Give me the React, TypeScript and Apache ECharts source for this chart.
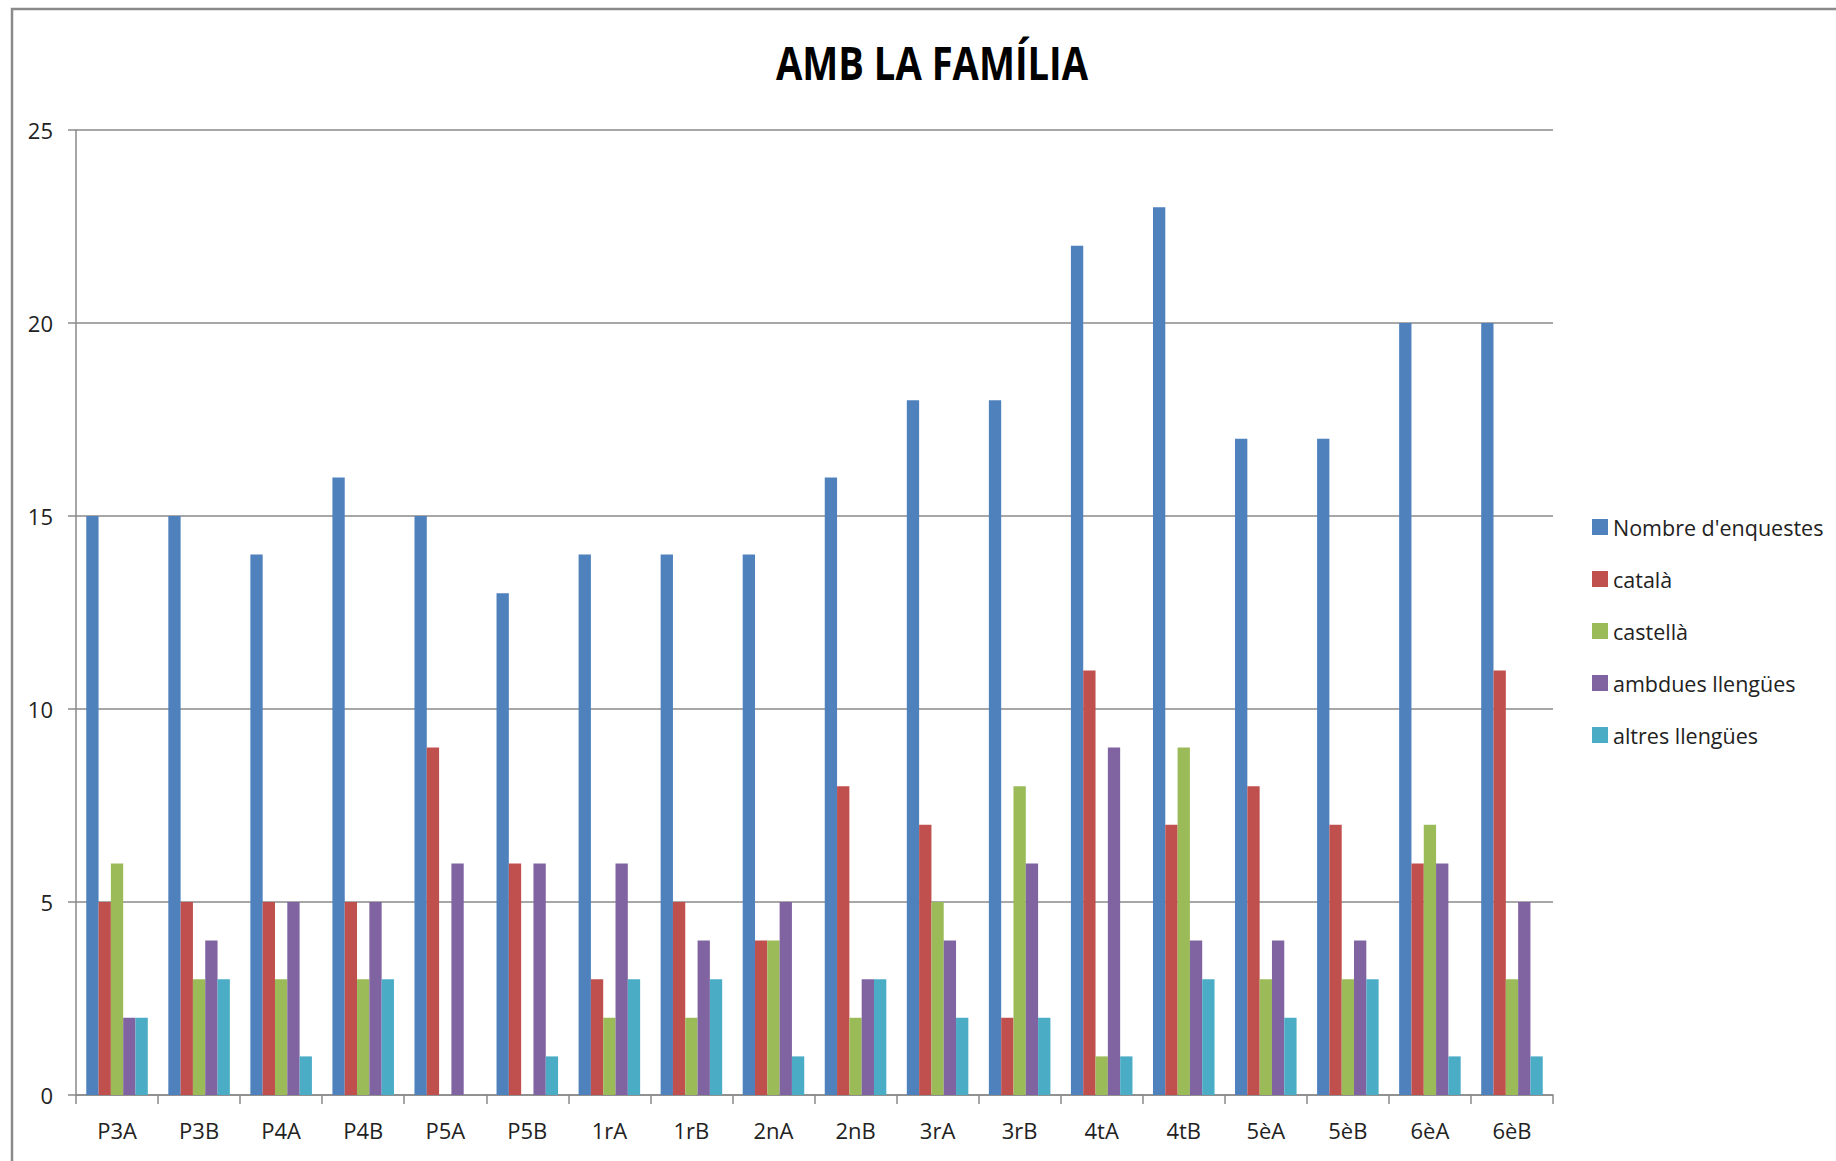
import React, { useEffect, useRef } from "react";
import * as echarts from "echarts";

const categories = ["P3A", "P3B", "P4A", "P4B", "P5A", "P5B", "1rA", "1rB", "2nA", "2nB", "3rA", "3rB", "4tA", "4tB", "5èA", "5èB", "6èA", "6èB"];
const nombreEnquestes = [15, 15, 14, 16, 15, 13, 14, 14, 14, 16, 18, 18, 22, 23, 17, 17, 20, 20];
const catala = [5, 5, 5, 5, 9, 6, 3, 5, 4, 8, 7, 2, 11, 7, 8, 7, 6, 11];
const castella = [6, 3, 3, 3, 0, 0, 2, 2, 4, 2, 5, 8, 1, 9, 3, 3, 7, 3];
const ambdues = [2, 4, 5, 5, 6, 6, 6, 4, 5, 3, 4, 6, 9, 4, 4, 4, 6, 5];
const altres = [2, 3, 1, 3, 0, 1, 3, 3, 1, 3, 2, 2, 1, 3, 2, 3, 1, 1];
const seriesNames = ["Nombre d'enquestes", "català", "castellà", "ambdues llengües", "altres llengües"];
const seriesColors = ["#4F81BD", "#C0504D", "#9BBB59", "#8064A2", "#4BACC6"];
const yTicks = [0, 5, 10, 15, 20, 25];
const titleText = "AMB LA FAMÍLIA";

const FONT = "'Open Sans', 'Noto Sans', sans-serif";

export default function App() {
  const ref = useRef<HTMLDivElement>(null);
  useEffect(() => {
    if (!ref.current) return;
    const chart = echarts.init(ref.current, null, { renderer: "svg" });
    const values = [nombreEnquestes, catala, castella, ambdues, altres];
    chart.setOption({
      animation: false,
      backgroundColor: "#ffffff",
      graphic: [
        {
          type: "rect",
          shape: { x: 12, y: 9, width: 1860, height: 1200 },
          style: { fill: "none", stroke: "#8a8a8a", lineWidth: 2.5 },
          silent: true,
        },
        {
          type: "text",
          x: 932,
          y: 62,
          scaleX: 0.83,
          scaleY: 1,
          style: {
            text: titleText,
            fontFamily: FONT,
            fontWeight: "bold",
            fontSize: 46,
            fill: "#000000",
            align: "center",
            verticalAlign: "middle",
          },
          silent: true,
        },
      ],
      legend: {
        orient: "vertical",
        left: 1587,
        top: 511,
        itemWidth: 16,
        itemHeight: 16,
        itemGap: 30,
        icon: "rect",
        textStyle: { fontFamily: FONT, fontSize: 21.5, color: "#222222" },
        data: seriesNames,
      },
      grid: { left: 76, top: 130, width: 1477, height: 965, containLabel: false },
      xAxis: {
        type: "category",
        data: categories,
        axisLine: { lineStyle: { color: "#8a8a8a", width: 1.5 } },
        axisTick: { show: true, length: 9, lineStyle: { color: "#8a8a8a", width: 1.5 } },
        axisLabel: { fontFamily: FONT, fontSize: 22, color: "#222222", margin: 24, interval: 0 },
      },
      yAxis: {
        type: "value",
        min: 0,
        max: 25,
        interval: 5,
        axisLine: { show: true, lineStyle: { color: "#8a8a8a", width: 1.5 } },
        axisTick: { show: true, length: 8, lineStyle: { color: "#8a8a8a", width: 1.5 } },
        axisLabel: {
          fontFamily: FONT,
          fontSize: 22,
          color: "#222222",
          margin: 23,
          formatter: (v: number) => (yTicks.includes(v) ? String(v) : ""),
        },
        splitLine: { show: true, lineStyle: { color: "#8a8a8a", width: 1.5 } },
      },
      series: seriesNames.map((name, i) => ({
        name,
        type: "bar",
        data: values[i],
        barGap: "0%",
        barCategoryGap: "25%",
        itemStyle: { color: seriesColors[i] },
      })),
    });
    return () => chart.dispose();
  }, []);
  return (
    <div
      ref={ref}
      style={{ position: "fixed", left: 0, top: 0, width: 1836, height: 1161 }}
    />
  );
}
